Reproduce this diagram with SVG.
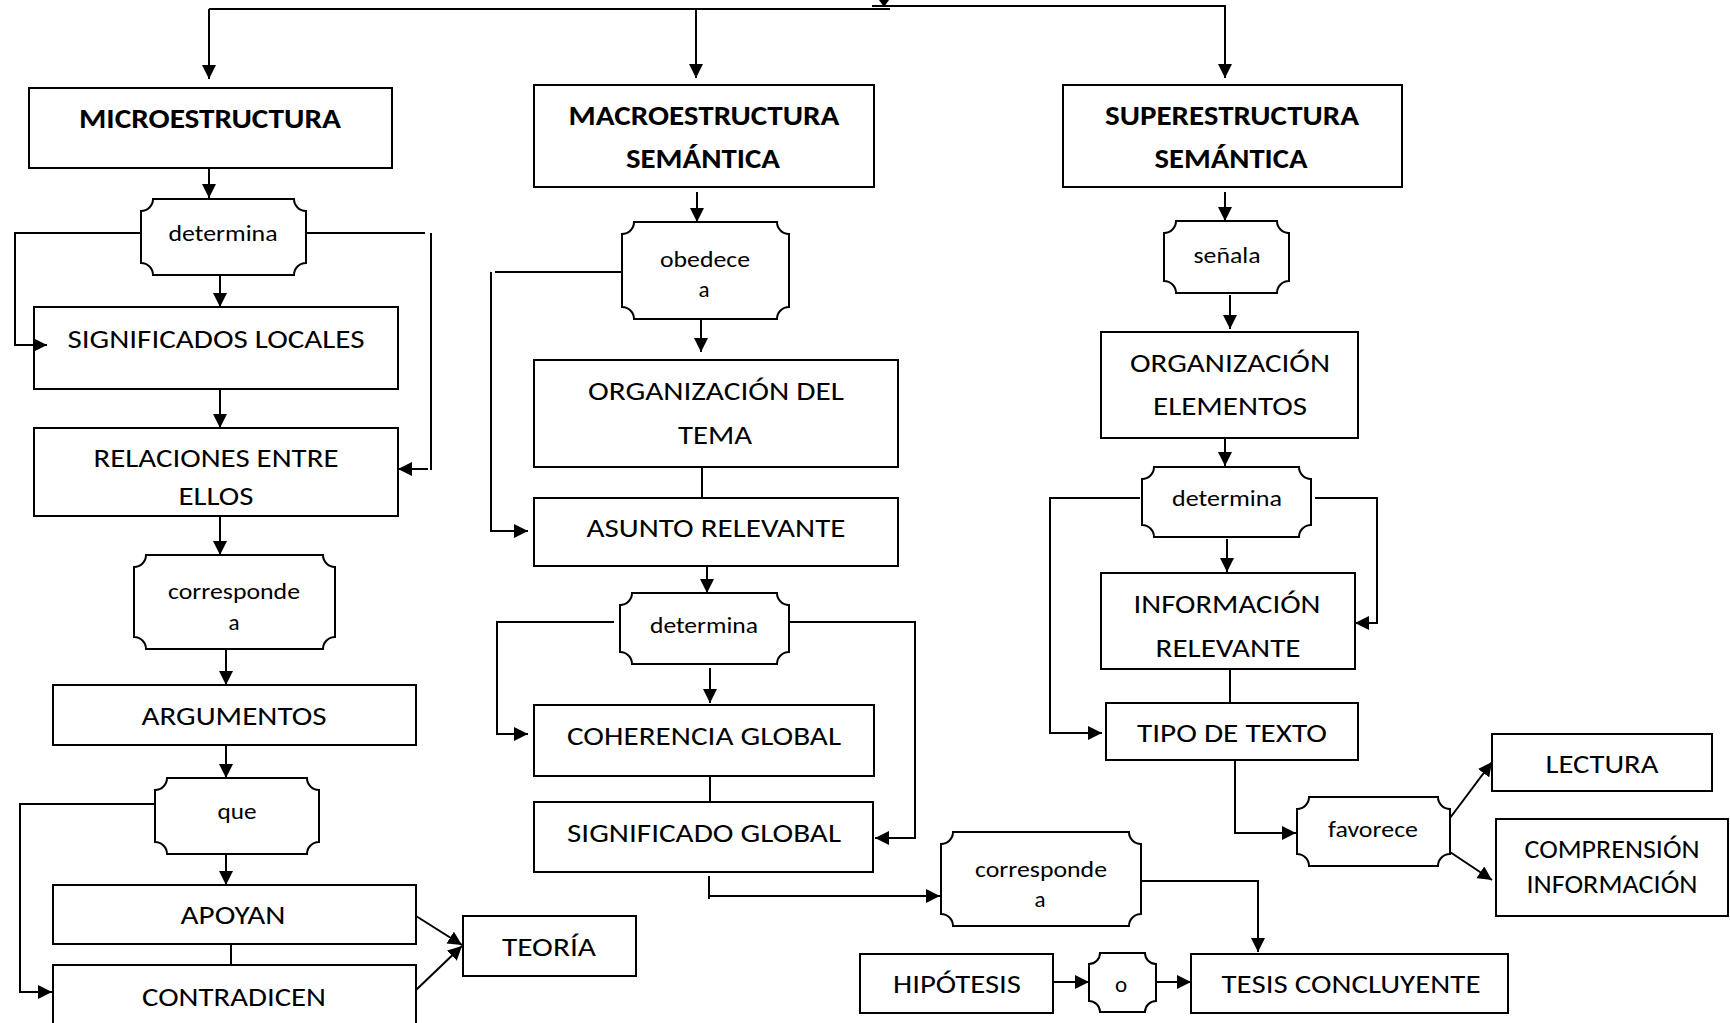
<svg xmlns="http://www.w3.org/2000/svg" width="1730" height="1023" viewBox="0 0 1730 1023">
  <style>
    .box { fill: #fff; stroke: #000; stroke-width: 2; }
    .con { fill: none; stroke: #000; stroke-width: 2; }
    .lbl { font-family: Carlito, Lato, "Open Sans", sans-serif; font-size: 26px; text-anchor: middle; fill: #000; }
    .hd { font-weight: bold; font-size: 28px; }
    .sm { font-size: 23px; }
  </style>
  <defs>
    <marker id="ah" viewBox="0 0 14 14" refX="14" refY="7" markerWidth="14" markerHeight="14" markerUnits="userSpaceOnUse" orient="auto">
      <path d="M0,0 L14,7 L0,14 Z" fill="#000"/>
    </marker>
  </defs>
  <rect width="1730" height="1023" fill="#fff"/>

  <!-- headings -->
  <g id="microestructura">
    <rect class="box" x="29" y="88" width="363" height="80"/>
    <text class="lbl hd" x="210" y="128" textLength="262" lengthAdjust="spacingAndGlyphs">MICROESTRUCTURA</text>
  </g>
  <g id="macroestructura">
    <rect class="box" x="534" y="85" width="340" height="102"/>
    <text class="lbl hd" x="704" y="125" textLength="271" lengthAdjust="spacingAndGlyphs">MACROESTRUCTURA</text>
    <text class="lbl hd" x="703" y="168" textLength="154" lengthAdjust="spacingAndGlyphs">SEMÁNTICA</text>
  </g>
  <g id="superestructura">
    <rect class="box" x="1063" y="85" width="339" height="102"/>
    <text class="lbl hd" x="1232" y="125" textLength="254" lengthAdjust="spacingAndGlyphs">SUPERESTRUCTURA</text>
    <text class="lbl hd" x="1231" y="168" textLength="153" lengthAdjust="spacingAndGlyphs">SEMÁNTICA</text>
  </g>

  <!-- microestructura branch -->
  <g id="determina-1">
    <path class="box" d="M153,199 H294 A12,12 0 0 0 306,211 V263 A12,12 0 0 0 294,275 H153 A12,12 0 0 0 141,263 V211 A12,12 0 0 0 153,199 Z"/>
    <text class="lbl sm" x="223" y="241" textLength="109" lengthAdjust="spacingAndGlyphs">determina</text>
  </g>
  <g id="significados-locales">
    <rect class="box" x="34" y="307" width="364" height="82"/>
    <text class="lbl" x="216" y="348" textLength="297" lengthAdjust="spacingAndGlyphs">SIGNIFICADOS LOCALES</text>
  </g>
  <g id="relaciones">
    <rect class="box" x="34" y="428" width="364" height="88"/>
    <text class="lbl" x="216" y="467" textLength="245" lengthAdjust="spacingAndGlyphs">RELACIONES ENTRE</text>
    <text class="lbl" x="216" y="505" textLength="75" lengthAdjust="spacingAndGlyphs">ELLOS</text>
  </g>
  <g id="corresponde-1">
    <path class="box" d="M146,555 H323 A12,12 0 0 0 335,567 V637 A12,12 0 0 0 323,649 H146 A12,12 0 0 0 134,637 V567 A12,12 0 0 0 146,555 Z"/>
    <text class="lbl sm" x="234" y="599" textLength="132" lengthAdjust="spacingAndGlyphs">corresponde</text>
    <text class="lbl sm" x="234" y="630">a</text>
  </g>
  <g id="argumentos">
    <rect class="box" x="53" y="685" width="363" height="60"/>
    <text class="lbl" x="234" y="725" textLength="185" lengthAdjust="spacingAndGlyphs">ARGUMENTOS</text>
  </g>
  <g id="que">
    <path class="box" d="M167,778 H307 A12,12 0 0 0 319,790 V842 A12,12 0 0 0 307,854 H167 A12,12 0 0 0 155,842 V790 A12,12 0 0 0 167,778 Z"/>
    <text class="lbl sm" x="237" y="819" textLength="39" lengthAdjust="spacingAndGlyphs">que</text>
  </g>
  <g id="apoyan">
    <rect class="box" x="53" y="885" width="363" height="59"/>
    <text class="lbl" x="233" y="924" textLength="105" lengthAdjust="spacingAndGlyphs">APOYAN</text>
  </g>
  <g id="contradicen">
    <rect class="box" x="53" y="965" width="363" height="70"/>
    <text class="lbl" x="234" y="1006" textLength="184" lengthAdjust="spacingAndGlyphs">CONTRADICEN</text>
  </g>
  <g id="teoria">
    <rect class="box" x="463" y="916" width="173" height="60"/>
    <text class="lbl" x="549" y="956" textLength="94" lengthAdjust="spacingAndGlyphs">TEORÍA</text>
  </g>

  <!-- macroestructura branch -->
  <g id="obedece">
    <path class="box" d="M634,222 H777 A12,12 0 0 0 789,234 V307 A12,12 0 0 0 777,319 H634 A12,12 0 0 0 622,307 V234 A12,12 0 0 0 634,222 Z"/>
    <text class="lbl sm" x="705" y="267" textLength="90" lengthAdjust="spacingAndGlyphs">obedece</text>
    <text class="lbl sm" x="704" y="297">a</text>
  </g>
  <g id="organizacion-tema">
    <rect class="box" x="534" y="360" width="364" height="107"/>
    <text class="lbl" x="716" y="400" textLength="256" lengthAdjust="spacingAndGlyphs">ORGANIZACIÓN DEL</text>
    <text class="lbl" x="715" y="444" textLength="74" lengthAdjust="spacingAndGlyphs">TEMA</text>
  </g>
  <g id="asunto-relevante">
    <rect class="box" x="534" y="498" width="364" height="68"/>
    <text class="lbl" x="716" y="537" textLength="259" lengthAdjust="spacingAndGlyphs">ASUNTO RELEVANTE</text>
  </g>
  <g id="determina-2">
    <path class="box" d="M632,593 H777 A12,12 0 0 0 789,605 V652 A12,12 0 0 0 777,664 H632 A12,12 0 0 0 620,652 V605 A12,12 0 0 0 632,593 Z"/>
    <text class="lbl sm" x="704" y="633" textLength="108" lengthAdjust="spacingAndGlyphs">determina</text>
  </g>
  <g id="coherencia-global">
    <rect class="box" x="534" y="705" width="340" height="71"/>
    <text class="lbl" x="704" y="745" textLength="274" lengthAdjust="spacingAndGlyphs">COHERENCIA GLOBAL</text>
  </g>
  <g id="significado-global">
    <rect class="box" x="534" y="802" width="339" height="70"/>
    <text class="lbl" x="704" y="842" textLength="274" lengthAdjust="spacingAndGlyphs">SIGNIFICADO GLOBAL</text>
  </g>
  <g id="corresponde-2">
    <path class="box" d="M953,832 H1129 A12,12 0 0 0 1141,844 V914 A12,12 0 0 0 1129,926 H953 A12,12 0 0 0 941,914 V844 A12,12 0 0 0 953,832 Z"/>
    <text class="lbl sm" x="1041" y="877" textLength="132" lengthAdjust="spacingAndGlyphs">corresponde</text>
    <text class="lbl sm" x="1040" y="907">a</text>
  </g>
  <g id="hipotesis">
    <rect class="box" x="860" y="954" width="193" height="59"/>
    <text class="lbl" x="957" y="993" textLength="128" lengthAdjust="spacingAndGlyphs">HIPÓTESIS</text>
  </g>
  <g id="o">
    <path class="box" d="M1100,953 H1145 A11,11 0 0 0 1156,964 V1001 A11,11 0 0 0 1145,1012 H1100 A11,11 0 0 0 1089,1001 V964 A11,11 0 0 0 1100,953 Z"/>
    <text class="lbl sm" x="1121" y="992">o</text>
  </g>
  <g id="tesis-concluyente">
    <rect class="box" x="1191" y="954" width="317" height="59"/>
    <text class="lbl" x="1351" y="993" textLength="259" lengthAdjust="spacingAndGlyphs">TESIS CONCLUYENTE</text>
  </g>

  <!-- superestructura branch -->
  <g id="senala">
    <path class="box" d="M1176,221 H1277 A12,12 0 0 0 1289,233 V281 A12,12 0 0 0 1277,293 H1176 A12,12 0 0 0 1164,281 V233 A12,12 0 0 0 1176,221 Z"/>
    <text class="lbl sm" x="1227" y="263" textLength="67" lengthAdjust="spacingAndGlyphs">señala</text>
  </g>
  <g id="organizacion-elementos">
    <rect class="box" x="1101" y="332" width="257" height="106"/>
    <text class="lbl" x="1230" y="372" textLength="200" lengthAdjust="spacingAndGlyphs">ORGANIZACIÓN</text>
    <text class="lbl" x="1230" y="415" textLength="154" lengthAdjust="spacingAndGlyphs">ELEMENTOS</text>
  </g>
  <g id="determina-3">
    <path class="box" d="M1154,467 H1299 A12,12 0 0 0 1311,479 V525 A12,12 0 0 0 1299,537 H1154 A12,12 0 0 0 1142,525 V479 A12,12 0 0 0 1154,467 Z"/>
    <text class="lbl sm" x="1227" y="506" textLength="110" lengthAdjust="spacingAndGlyphs">determina</text>
  </g>
  <g id="informacion-relevante">
    <rect class="box" x="1101" y="573" width="254" height="96"/>
    <text class="lbl" x="1227" y="613" textLength="187" lengthAdjust="spacingAndGlyphs">INFORMACIÓN</text>
    <text class="lbl" x="1228" y="657" textLength="145" lengthAdjust="spacingAndGlyphs">RELEVANTE</text>
  </g>
  <g id="tipo-de-texto">
    <rect class="box" x="1106" y="703" width="252" height="57"/>
    <text class="lbl" x="1232" y="742" textLength="190" lengthAdjust="spacingAndGlyphs">TIPO DE TEXTO</text>
  </g>
  <g id="favorece">
    <path class="box" d="M1309,797 H1438 A12,12 0 0 0 1450,809 V854 A12,12 0 0 0 1438,866 H1309 A12,12 0 0 0 1297,854 V809 A12,12 0 0 0 1309,797 Z"/>
    <text class="lbl sm" x="1373" y="837" textLength="90" lengthAdjust="spacingAndGlyphs">favorece</text>
  </g>
  <g id="lectura">
    <rect class="box" x="1492" y="734" width="220" height="57"/>
    <text class="lbl" x="1602" y="773" textLength="113" lengthAdjust="spacingAndGlyphs">LECTURA</text>
  </g>
  <g id="comprension-informacion">
    <rect class="box" x="1496" y="819" width="232" height="97"/>
    <text class="lbl" x="1612" y="858" textLength="175" lengthAdjust="spacingAndGlyphs">COMPRENSIÓN</text>
    <text class="lbl" x="1612" y="893" textLength="171" lengthAdjust="spacingAndGlyphs">INFORMACIÓN</text>
  </g>

  <!-- connectors, drawn over the boxes so overlapping arrowheads stay visible -->
  <g id="connectors">
    <path class="con" d="M209,9 H890" stroke-width="3"/>
    <path class="con" d="M209,9 V79" marker-end="url(#ah)"/>
    <path class="con" d="M696,9 V78" marker-end="url(#ah)"/>
    <path class="con" d="M872,6 H1225 V78" marker-end="url(#ah)"/>
    <polygon points="879,0 889,0 884,7" fill="#000"/>

    <!-- microestructura column -->
    <path class="con" d="M209,168 V198" marker-end="url(#ah)"/>
    <path class="con" d="M141,233 H15 V345 H47" marker-end="url(#ah)"/>
    <path class="con" d="M306,233 H425"/>
    <path class="con" d="M431,233 V470"/>
    <path class="con" d="M428,469 H398" marker-end="url(#ah)"/>
    <path class="con" d="M220,275 V307" marker-end="url(#ah)"/>
    <path class="con" d="M220,389 V428" marker-end="url(#ah)"/>
    <path class="con" d="M220,516 V555" marker-end="url(#ah)"/>
    <path class="con" d="M226,649 V685" marker-end="url(#ah)"/>
    <path class="con" d="M226,745 V778" marker-end="url(#ah)"/>
    <path class="con" d="M155,804 H20 V992 H52" marker-end="url(#ah)"/>
    <path class="con" d="M226,854 V885" marker-end="url(#ah)"/>
    <path class="con" d="M231,944 V965"/>
    <path class="con" d="M416,916 L462,945" marker-end="url(#ah)"/>
    <path class="con" d="M416,990 L462,946" marker-end="url(#ah)"/>

    <!-- macroestructura column -->
    <path class="con" d="M697,192 V222" marker-end="url(#ah)"/>
    <path class="con" d="M622,272 H495"/>
    <path class="con" d="M491,272 V531 H528" marker-end="url(#ah)"/>
    <path class="con" d="M701,319 V352" marker-end="url(#ah)"/>
    <path class="con" d="M702,467 V498"/>
    <path class="con" d="M707,566 V593" marker-end="url(#ah)"/>
    <path class="con" d="M614,622 H497 V734 H528" marker-end="url(#ah)"/>
    <path class="con" d="M789,622 H915 V838 H875" marker-end="url(#ah)"/>
    <path class="con" d="M710,668 V703" marker-end="url(#ah)"/>
    <path class="con" d="M710,776 V802"/>
    <path class="con" d="M709,876 V899"/>
    <path class="con" d="M709,896 H940" marker-end="url(#ah)"/>
    <path class="con" d="M1141,881 H1258 V952" marker-end="url(#ah)"/>
    <path class="con" d="M1053,982 H1089" marker-end="url(#ah)"/>
    <path class="con" d="M1156,982 H1191" marker-end="url(#ah)"/>

    <!-- superestructura column -->
    <path class="con" d="M1225,192 V221" marker-end="url(#ah)"/>
    <path class="con" d="M1230,295 V329" marker-end="url(#ah)"/>
    <path class="con" d="M1225,438 V466" marker-end="url(#ah)"/>
    <path class="con" d="M1140,498 H1050 V733 H1102" marker-end="url(#ah)"/>
    <path class="con" d="M1315,498 H1377 V623 H1355" marker-end="url(#ah)"/>
    <path class="con" d="M1227,539 V572" marker-end="url(#ah)"/>
    <path class="con" d="M1230,669 V703"/>
    <path class="con" d="M1235,760 V833 H1296" marker-end="url(#ah)"/>
    <path class="con" d="M1450,818 L1492,762" marker-end="url(#ah)"/>
    <path class="con" d="M1450,852 L1492,880" marker-end="url(#ah)"/>
  </g>
</svg>
